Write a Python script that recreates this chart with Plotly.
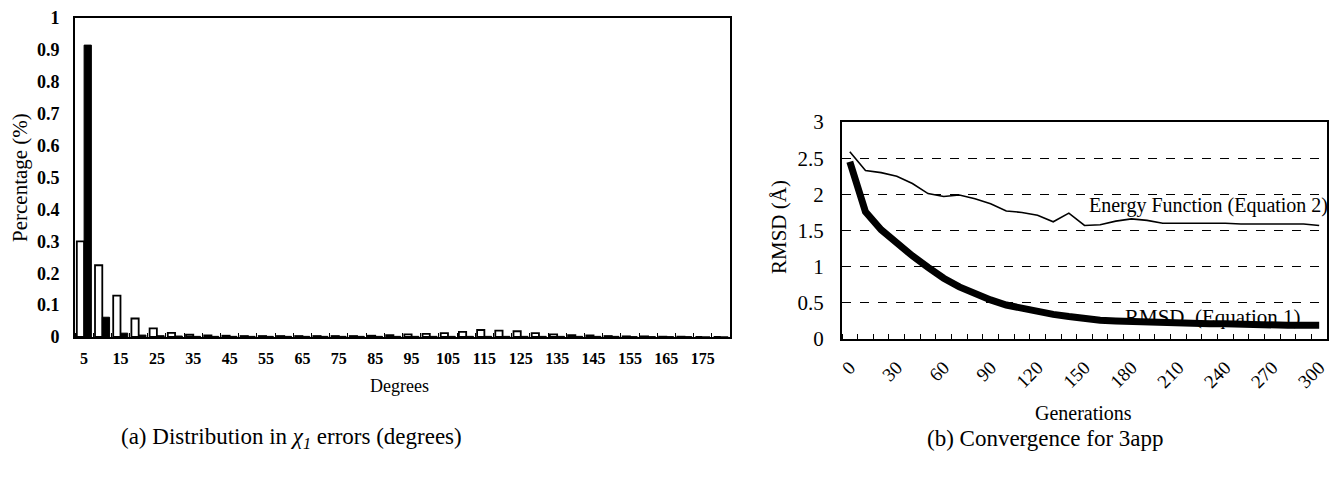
import plotly.graph_objects as go

# ---------------- data: (a) distribution of chi1 errors ----------------
degrees = list(range(5, 185, 5))
open_pct = [0.30, 0.225, 0.13, 0.058, 0.027, 0.013, 0.007, 0.005, 0.004, 0.003,
            0.003, 0.003, 0.003, 0.003, 0.003, 0.003, 0.004, 0.006, 0.008, 0.010,
            0.012, 0.016, 0.022, 0.020, 0.018, 0.012, 0.008, 0.006, 0.005, 0.003,
            0.002, 0.002, 0.001, 0.001, 0.0, 0.0]
filled_pct = [0.915, 0.062, 0.012, 0.006, 0.004, 0.003, 0.002, 0.002, 0.002, 0.002,
              0.002, 0.002, 0.002, 0.002, 0.002, 0.002, 0.002, 0.002, 0.002, 0.002,
              0.002, 0.002, 0.002, 0.002, 0.002, 0.002, 0.002, 0.002, 0.002, 0.002,
              0.001, 0.001, 0.001, 0.001, 0.0, 0.0]
deg_ticks = list(range(5, 180, 10))
pct_ticks = [0, 0.1, 0.2, 0.3, 0.4, 0.5, 0.6, 0.7, 0.8, 0.9, 1]
pct_ticktext = ["0", "0.1", "0.2", "0.3", "0.4", "0.5", "0.6", "0.7", "0.8", "0.9", "1"]

# ---------------- data: (b) convergence for 3app ----------------
generations = list(range(0, 310, 10))
energy = [2.59, 2.33, 2.30, 2.25, 2.15, 2.01, 1.97, 1.99, 1.94, 1.87, 1.77,
          1.75, 1.71, 1.62, 1.74, 1.57, 1.58, 1.63, 1.66, 1.64, 1.60, 1.60,
          1.61, 1.60, 1.60, 1.59, 1.59, 1.58, 1.58, 1.59, 1.57]
rmsd = [2.45, 1.76, 1.51, 1.32, 1.15, 0.99, 0.84, 0.72, 0.62, 0.54, 0.47,
        0.42, 0.37, 0.34, 0.31, 0.28, 0.26, 0.25, 0.24, 0.23, 0.22, 0.22,
        0.21, 0.21, 0.21, 0.20, 0.20, 0.20, 0.19, 0.19, 0.19]
gen_ticks = list(range(0, 310, 30))
rmsd_ticks = [0, 0.5, 1, 1.5, 2, 2.5, 3]
rmsd_ticktext = ["0", "0.5", "1", "1.5", "2", "2.5", "3"]

SERIF = "Liberation Serif, Times New Roman, serif"
W, H = 1338, 477
OFF = 8  # page body margin

fig = go.Figure()

# (a) bars
fig.add_trace(go.Bar(x=degrees, y=open_pct, xaxis="x", yaxis="y",
                     marker=dict(color="white", line=dict(color="black", width=1.8)),
                     showlegend=False))
fig.add_trace(go.Bar(x=degrees, y=filled_pct, xaxis="x", yaxis="y",
                     marker=dict(color="black", line=dict(color="black", width=1)),
                     showlegend=False))

# (b) lines
fig.add_trace(go.Scatter(x=[232], y=[0.285], xaxis="x2", yaxis="y2", mode="text",
                         text=["RMSD  (Equation 1)"], cliponaxis=False,
                         textfont=dict(family=SERIF, size=21, color="black"),
                         showlegend=False, hoverinfo="skip"))
fig.add_trace(go.Scatter(x=generations, y=energy, xaxis="x2", yaxis="y2", mode="lines",
                         line=dict(color="black", width=1.6), showlegend=False))
fig.add_trace(go.Scatter(x=generations, y=rmsd, xaxis="x2", yaxis="y2", mode="lines",
                         line=dict(color="black", width=7), showlegend=False))

def px_x(p):
    return (p - OFF) / W

def px_y(p):
    return 1 - (p - OFF) / H

def label(text, x, y, size, angle=0):
    return dict(text=text, xref="paper", yref="paper", x=px_x(x), y=px_y(y),
                xanchor="center", yanchor="middle", textangle=angle, showarrow=False,
                font=dict(family=SERIF, size=size, color="black"))

fig.update_layout(
    width=W, height=H, autosize=False,
    margin=dict(l=0, r=0, t=0, b=0, pad=0),
    paper_bgcolor="white", plot_bgcolor="white",
    barmode="group", bargap=0.2, bargroupgap=0.0,
    font=dict(family=SERIF, color="black"),
    xaxis=dict(domain=[px_x(75), px_x(730)], anchor="y", automargin=False,
               range=[2.5, 182.5], tickmode="array", tickvals=deg_ticks,
               ticktext=[str(v) for v in deg_ticks], ticks="",
               tickfont=dict(family=SERIF, size=16, color="black", weight="bold"),
               ticklabelstandoff=6,
               showline=True, linecolor="black", linewidth=2, mirror=True,
               showgrid=False, zeroline=False,
               minor=dict(tickmode="linear", tick0=2.5, dtick=5, ticks="inside",
                          ticklen=4, tickcolor="black", tickwidth=1, showgrid=False)),
    yaxis=dict(domain=[px_y(337), px_y(18)], anchor="x", automargin=False,
               range=[0, 1], tickmode="array", tickvals=pct_ticks, ticktext=pct_ticktext,
               ticks="", tickfont=dict(family=SERIF, size=18, color="black", weight="bold"),
               ticklabelstandoff=10,
               showline=True, linecolor="black", linewidth=2, mirror=True,
               showgrid=False, zeroline=False),
    xaxis2=dict(domain=[px_x(842), px_x(1327)], anchor="y2", automargin=False,
                range=[-5, 305], tickmode="array", tickvals=gen_ticks,
                ticktext=[str(v) for v in gen_ticks], ticks="", tickangle=-45,
                tickfont=dict(family=SERIF, size=19, color="black"),
                ticklabelstandoff=8,
                showline=True, linecolor="black", linewidth=2, mirror=True,
                showgrid=False, zeroline=False,
                minor=dict(tickmode="linear", tick0=5, dtick=10, ticks="inside",
                           ticklen=5, tickcolor="black", tickwidth=1, showgrid=False)),
    yaxis2=dict(domain=[px_y(339), px_y(122)], anchor="x2", automargin=False,
                range=[0, 3], tickmode="array", tickvals=rmsd_ticks, ticktext=rmsd_ticktext,
                ticks="", tickfont=dict(family=SERIF, size=21, color="black"),
                ticklabelstandoff=12,
                showline=True, linecolor="black", linewidth=2, mirror=True,
                showgrid=True, gridcolor="black", gridwidth=1, griddash="dash",
                zeroline=False),
    annotations=[
        label("Percentage (%)", 20, 178, 21, -90),
        label("Degrees", 400, 386, 18),
        label("(a) Distribution in <i>χ<sub>1</sub></i> errors (degrees)", 291, 438, 23),
        label("RMSD (Å)", 779, 227, 21, -90),
        label("Generations", 1083, 413, 20),
        label("(b) Convergence for 3app", 1045, 438, 23),
        dict(text="Energy Function (Equation 2)", xref="x2", yref="y2",
             x=229, y=1.84, xanchor="center", yanchor="middle", showarrow=False,
             font=dict(family=SERIF, size=20, color="black")),
    ],
)

fig.write_html("out.html")
